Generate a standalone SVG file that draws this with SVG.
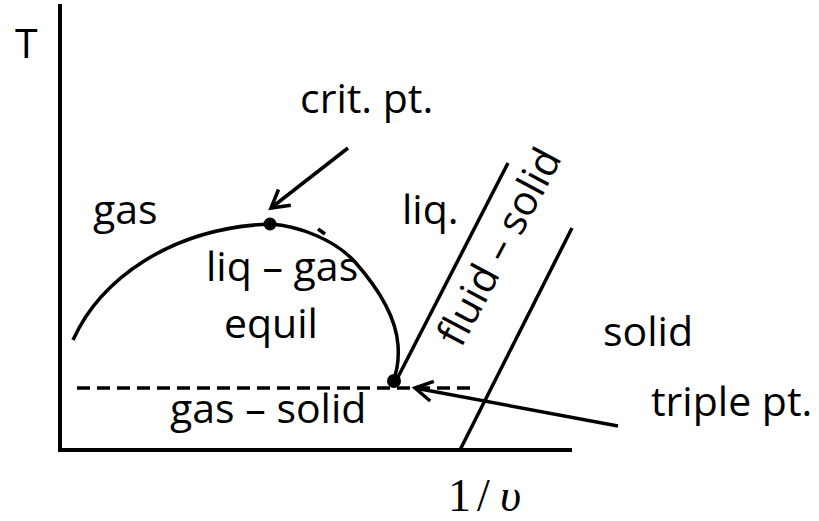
<svg xmlns="http://www.w3.org/2000/svg" width="819" height="521" viewBox="0 0 819 521">
<style>
.t{font-family:"Open Sans","Noto Sans",sans-serif;font-size:41px;fill:#000}
.ln{stroke:#000;stroke-width:3.5;fill:none}
.ax{stroke:#000;stroke-width:4;fill:none}
</style>
<defs>
<marker id="ah" markerUnits="userSpaceOnUse" orient="auto" refX="0" refY="0" markerWidth="24" markerHeight="26" viewBox="-22 -13 24 26" style="overflow:visible">
<path d="M-17.3,-10 L0,0 L-17.3,10" fill="none" stroke="#000" stroke-width="3.5"/>
</marker>
</defs>
<rect width="819" height="521" fill="#fff"/>
<g id="axes">
<line class="ax" x1="60" y1="4" x2="60" y2="452"/>
<line class="ax" x1="58" y1="450" x2="572" y2="450"/>
<text class="t" x="15" y="58">T</text>
<text font-family="Liberation Serif,serif" font-size="46" fill="#000"><tspan x="448" y="511">1</tspan><tspan x="477" y="511">/</tspan><tspan x="500" y="511" font-style="italic">υ</tspan></text>
</g>
<g id="coexistence-curve">
<path class="ln" d="M73,340 C100,280 170,228 270,224 C300,226 335,240 355,262 C378,288 396,318 398,345 C399,360 397,372 393,381"/>
<path class="ln" d="M318,229 L325,234" stroke-width="2.5"/>
</g>
<g id="connectors">
<line class="ln" x1="77" y1="388" x2="476" y2="388" stroke-dasharray="13 7"/>
<line class="ln" x1="508" y1="163" x2="396" y2="381"/>
<line class="ln" x1="572" y1="228" x2="460" y2="450"/>
<line class="ln" x1="348" y1="148" x2="271" y2="208" marker-end="url(#ah)"/>
<line class="ln" x1="618" y1="426" x2="415" y2="388" marker-end="url(#ah)"/>
</g>
<g id="crit-pt">
<circle cx="270" cy="224" r="6.5" fill="#000"/>
<text class="t" x="300" y="113">crit. pt.</text>
</g>
<g id="triple-pt">
<circle cx="394" cy="381" r="7" fill="#000"/>
<text class="t" x="651" y="416">triple pt.</text>
</g>
<g id="gas"><text class="t" x="93" y="224">gas</text></g>
<g id="liq"><text class="t" x="402" y="224">liq.</text></g>
<g id="liq-gas"><text class="t" x="206" y="281">liq – gas</text><text class="t" x="224" y="338">equil</text></g>
<g id="gas-solid"><text class="t" x="170" y="423">gas – solid</text></g>
<g id="solid"><text class="t" x="603" y="346">solid</text></g>
<g id="fluid-solid"><text class="t" transform="translate(461,349) rotate(-62)">fluid – solid</text></g>
</svg>
